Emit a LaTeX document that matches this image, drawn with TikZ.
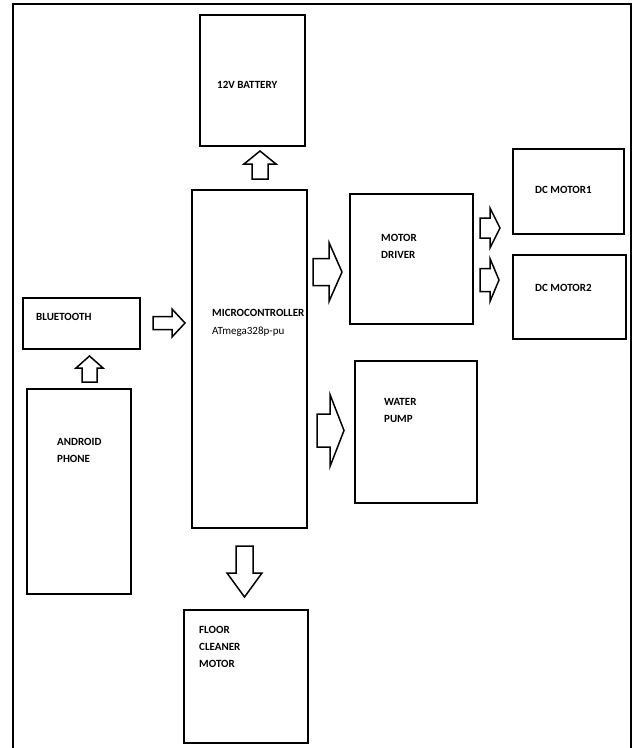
\documentclass[tikz,border=0pt]{standalone}
\usepackage{fontspec}
\setmainfont{Carlito}
\tikzset{
  box/.style={draw, line width=2pt, inner sep=0pt, anchor=north west},
  lbl/.style={anchor=base west, inner sep=0pt, align=left,
    font=\bfseries\fontsize{11}{17}\selectfont},
  lblr/.style={lbl, font=\fontsize{11}{18}\selectfont},
  arrowline/.style={draw, line width=1.5pt, line join=miter, fill=white},
  pics/barrow/.style args={#1/#2/#3/#4}{code={
    \draw[arrowline] (0,#3) -- ({#1-#2},#3) -- ({#1-#2},#4) -- (#1,0)
      -- ({#1-#2},-#4) -- ({#1-#2},-#3) -- (0,-#3) -- cycle;}}
}
\begin{document}
\begin{tikzpicture}[x=1pt, y=-1pt]
\useasboundingbox (0,0) rectangle (633,748);
% outer frame
\draw[line width=2pt] (13,748) -- (13,4) -- (631,4) -- (631,748);

% boxes
\node[box, minimum width=105pt, minimum height=131pt] (bat) at (199,14) {};
\node[box, minimum width=115pt, minimum height=338pt] (mc) at (191,189) {};
\node[box, minimum width=117pt, minimum height=51pt] (bt) at (22,297) {};
\node[box, minimum width=104pt, minimum height=205pt] (and) at (26,388) {};
\node[box, minimum width=124pt, minimum height=133pt] (floor) at (183,609) {};
\node[box, minimum width=123pt, minimum height=130pt] (drv) at (349,193) {};
\node[box, minimum width=111pt, minimum height=85pt] (dc1) at (512,148) {};
\node[box, minimum width=113pt, minimum height=84pt] (dc2) at (512,254) {};
\node[box, minimum width=122pt, minimum height=142pt] (pump) at (354,360) {};

% labels (base anchor = baseline of the last line)
\node[lbl] (tbat) at (217,88.6) {12V BATTERY};
\node[lbl] (tbt) at (36,320) {BLUETOOTH};
\node[lbl] (tmc) at (212,316) {MICROCONTROLLER};
\node[lblr] (tmc2) at (212,334) {ATmega328p-pu};
\node[lbl] (tdrv) at (381,258) {MOTOR\\DRIVER};
\node[lbl] (tdc1) at (535,193) {DC MOTOR1};
\node[lbl] (tdc2) at (535,291) {DC MOTOR2};
\node[lbl] (tpump) at (384,422) {WATER\\PUMP};
\node[lbl] (tand) at (57,462) {ANDROID\\PHONE};
\node[lbl] (tfloor) at (199,667) {FLOOR\\CLEANER\\MOTOR};

% block arrows (tail centre, length/head/shaft half/head half)
\pic[rotate=90] (a-bat) at (260,179) {barrow={28/13/8/16}};
\pic (a-bt) at (153,323) {barrow={32/13/6.5/14}};
\pic[rotate=90] (a-and) at (89.5,382) {barrow={26/12/7.5/13.5}};
\pic[rotate=-90] (a-floor) at (244.5,546) {barrow={51/24/8.5/17.5}};
\pic (a-drv) at (313,272) {barrow={29/13/13.5/29.5}};
\pic (a-pump) at (317,430.5) {barrow={27/14/16.5/36}};
\pic (a-dc1) at (480,228) {barrow={20/10/10/20}};
\pic (a-dc2) at (480,280) {barrow={19/9/11.5/21.5}};
\end{tikzpicture}
\end{document}
